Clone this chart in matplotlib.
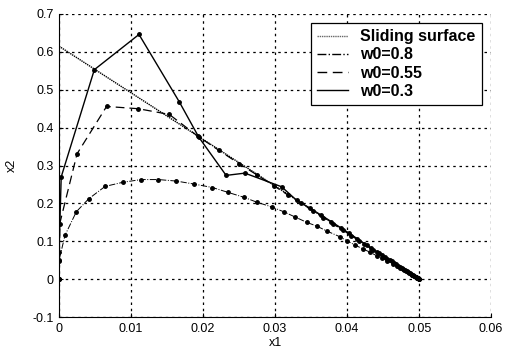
import matplotlib
matplotlib.use("Agg")
import matplotlib.pyplot as plt
from matplotlib.lines import Line2D

plt.rcParams['font.family'] = ['Liberation Sans', 'DejaVu Sans']

# sliding surface s = 0
surf_x = [0.0, 0.05]
surf_y = [0.615, 0.0]

# w0 = 0.8 (dash-dot)
x_08 = [0.0, 0.0, 0.00083, 0.0024, 0.0041, 0.0064, 0.0089, 0.0114, 0.0138, 0.0163,
        0.0188, 0.0213, 0.0235, 0.0257, 0.0275, 0.0295, 0.0312, 0.0328, 0.0344, 0.0358,
        0.0372, 0.039, 0.0400, 0.0411, 0.0422, 0.0432, 0.0441, 0.0449, 0.0456, 0.0463,
        0.0469, 0.0474, 0.0479, 0.0483, 0.0487, 0.0490, 0.0493, 0.0495, 0.0497, 0.0499, 0.05]
y_08 = [0.0, 0.05, 0.116, 0.178, 0.212, 0.245, 0.256, 0.263, 0.263, 0.259,
        0.251, 0.242, 0.229, 0.216, 0.203, 0.191, 0.178, 0.164, 0.150, 0.140,
        0.127, 0.112, 0.101, 0.090, 0.080, 0.071, 0.062, 0.055, 0.048, 0.041,
        0.035, 0.030, 0.025, 0.021, 0.016, 0.012, 0.009, 0.006, 0.004, 0.002, 0.0]

# w0 = 0.55 (dashed)
x_055 = [0.0, 0.0001, 0.0025, 0.0066, 0.011, 0.0153, 0.0193, 0.0222, 0.0250, 0.0275,
         0.0298, 0.0318, 0.0336, 0.0352, 0.0367, 0.0381, 0.0394, 0.0406, 0.0417, 0.0427,
         0.0436, 0.0444, 0.0452, 0.0459, 0.0465, 0.0471, 0.0476, 0.0481, 0.0485, 0.0489,
         0.0492, 0.0495, 0.0497, 0.0499, 0.05]
y_055 = [0.0, 0.147, 0.331, 0.456, 0.450, 0.435, 0.377, 0.340, 0.305, 0.275,
         0.247, 0.222, 0.200, 0.181, 0.162, 0.145, 0.130, 0.115, 0.101, 0.089,
         0.078, 0.068, 0.058, 0.050, 0.043, 0.036, 0.030, 0.024, 0.019, 0.014,
         0.010, 0.006, 0.004, 0.002, 0.0]

# w0 = 0.3 (solid)
x_03 = [0.0, 0.0, 0.0, 0.0003, 0.0049, 0.0111, 0.0167, 0.0194, 0.0232, 0.0258,
        0.0309, 0.0330, 0.0348, 0.0364, 0.0378, 0.0391, 0.0403, 0.0414, 0.0424, 0.0433,
        0.0441, 0.0449, 0.0456, 0.0462, 0.0468, 0.0473, 0.0478, 0.0482, 0.0486, 0.0490,
        0.0493, 0.0496, 0.0498, 0.05]
y_03 = [0.0, 0.048, 0.072, 0.27, 0.553, 0.646, 0.468, 0.375, 0.274, 0.280,
        0.244, 0.208, 0.188, 0.169, 0.152, 0.136, 0.121, 0.107, 0.094, 0.083,
        0.073, 0.063, 0.054, 0.047, 0.040, 0.033, 0.027, 0.022, 0.017, 0.012,
        0.009, 0.005, 0.003, 0.0]

labels = ['Sliding surface', 'w0=0.8', 'w0=0.55', 'w0=0.3']
styles = [(0, (1, 0.6)), '-.', (0, (7, 4)), '-']

fig = plt.figure(figsize=(5.09, 3.5), dpi=100)
ax = fig.add_axes([0.116, 0.094, 0.849, 0.866])

ax.plot(surf_x, surf_y, color='black', lw=1.0, ls=styles[0])
ax.plot(x_08, y_08, color='black', lw=0.7, ls=styles[1], marker='.', ms=5)
ax.plot(x_055, y_055, color='black', lw=0.9, ls=styles[2], marker='.', ms=5)
ax.plot(x_03, y_03, color='black', lw=1.0, ls=styles[3], marker='.', ms=5)

ax.set_xlim(0, 0.06)
ax.set_ylim(-0.1, 0.7)
ax.set_xticks([0, 0.01, 0.02, 0.03, 0.04, 0.05, 0.06])
ax.set_xticklabels(['0', '0.01', '0.02', '0.03', '0.04', '0.05', '0.06'])
ax.set_yticks([-0.1, 0, 0.1, 0.2, 0.3, 0.4, 0.5, 0.6, 0.7])
ax.set_yticklabels(['-0.1', '0', '0.1', '0.2', '0.3', '0.4', '0.5', '0.6', '0.7'])
ax.grid(True, color='black', ls=(0, (2, 3)), lw=0.9)
ax.spines['top'].set_visible(False)
ax.spines['right'].set_visible(False)
ax.tick_params(direction='in', length=3, labelsize=9, pad=4)
ax.set_xlabel('x1', fontsize=9, labelpad=2)
ax.set_ylabel('x2', fontsize=9, labelpad=10)

# legend shows line styles only, no markers
handles = [Line2D([], [], color='black', lw=1.0, ls=s) for s in styles]
handles[0].set_color('0.4')
leg = ax.legend(handles, labels, loc='upper right', bbox_to_anchor=(0.947, 0.935),
                bbox_transform=fig.transFigure, fancybox=False, framealpha=1,
                edgecolor='black', handlelength=1.95, borderpad=0.4, labelspacing=0.2,
                handletextpad=0.75, borderaxespad=0, prop={'size': 11.5, 'weight': 'bold'})
leg.get_frame().set_linewidth(0.9)

fig.savefig('out.png', dpi=100)
